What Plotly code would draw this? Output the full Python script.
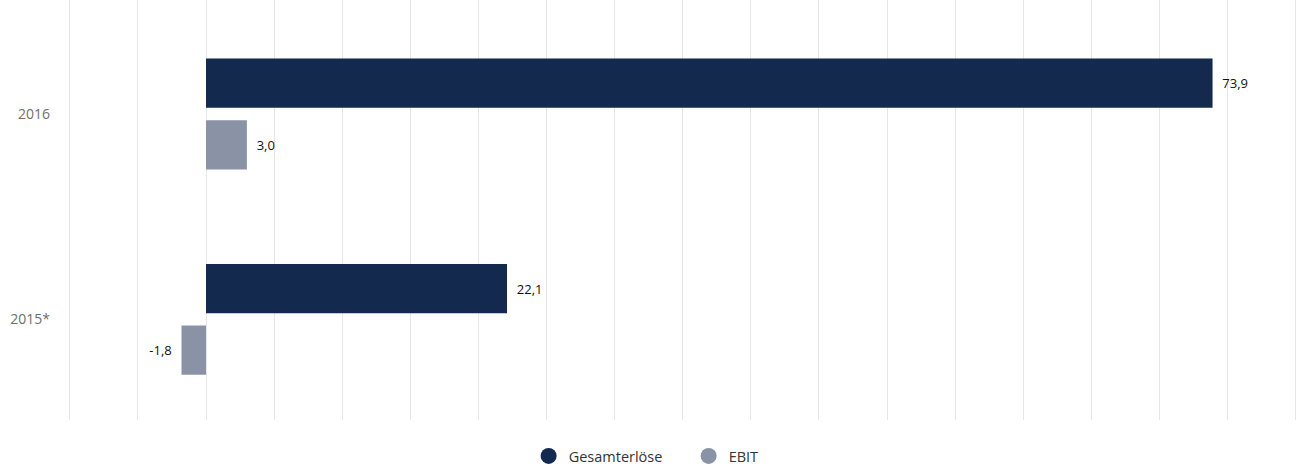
import plotly.graph_objects as go

categories = ["2016", "2015*"]
gesamterloese = [73.9, 22.1]
ebit = [3.0, -1.8]
series_names = ["Gesamterlöse", "EBIT"]
colors = ["#132a4e", "#8993a5"]

def fmt(v):
    s = f"{v:.1f}".replace(".", ",")
    return s + "  " if v < 0 else "  " + s

fig = go.Figure()
for name, vals, col in zip(series_names, [gesamterloese, ebit], colors):
    fig.add_trace(go.Bar(
        y=categories, x=vals, orientation="h", name=name,
        marker=dict(color=col, line=dict(width=0)),
        text=[fmt(v) for v in vals], textposition="outside",
        textfont=dict(color="#111111", size=13, family="Open Sans"),
        cliponaxis=False, showlegend=False,
    ))
    fig.add_trace(go.Scatter(
        x=[None], y=[None], mode="markers", name=name,
        marker=dict(symbol="circle", size=16, color=col),
    ))

fig.update_layout(
    width=1298, height=472,
    margin=dict(l=63, r=1, t=0, b=49),
    paper_bgcolor="white", plot_bgcolor="white",
    barmode="group", bargap=0.40, bargroupgap=0.2,
    font=dict(family="Open Sans", size=13, color="#666666"),
    xaxis=dict(range=[-10.5, 80.1], dtick=5, tick0=0, showticklabels=False,
               showgrid=True, gridcolor="#e6e6e6", gridwidth=1,
               zeroline=False, showline=False, ticks=""),
    yaxis=dict(type="category", categoryorder="array", categoryarray=categories,
               range=[1.49, -0.555], showgrid=False, zeroline=False,
               showline=False, ticks="", ticklabelstandoff=12,
               tickfont=dict(size=14, color="#6e6e6e")),
    legend=dict(orientation="h", x=0.507, xanchor="center", y=-0.087,
                yanchor="middle", font=dict(size=14.5, color="#333333"),
                itemsizing="trace", entrywidth=115),
)

fig.write_html("out.html")
